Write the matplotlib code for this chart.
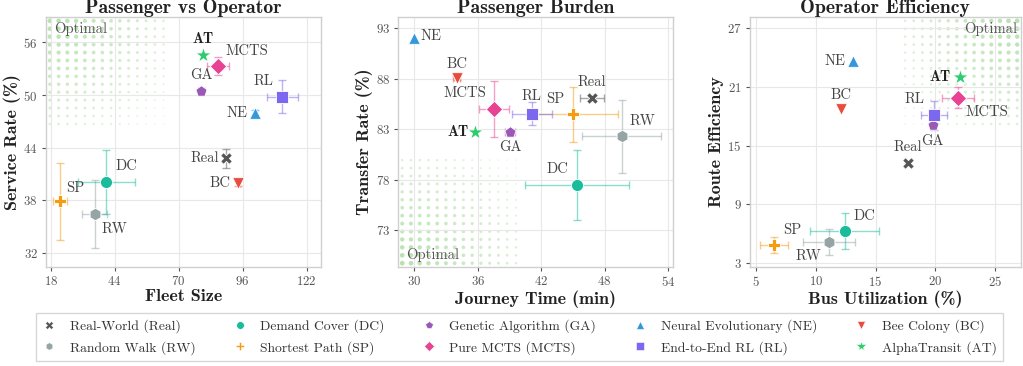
import numpy as np
import matplotlib
matplotlib.use("Agg")
import matplotlib.pyplot as plt
from matplotlib.lines import Line2D

plt.rcParams['font.family'] = ['cmr10', 'DejaVu Sans']
plt.rcParams['axes.formatter.use_mathtext'] = True
plt.rcParams['axes.unicode_minus'] = False

# ---------------- data ----------------
methods = ['Real', 'RW', 'DC', 'SP', 'GA', 'MCTS', 'NE', 'RL', 'BC', 'AT']
full_names = ['Real-World (Real)', 'Random Walk (RW)', 'Demand Cover (DC)', 'Shortest Path (SP)',
              'Genetic Algorithm (GA)', 'Pure MCTS (MCTS)', 'Neural Evolutionary (NE)',
              'End-to-End RL (RL)', 'Bee Colony (BC)', 'AlphaTransit (AT)']

# Panel 1: Fleet size vs service rate
fleet_size = [89.3, 35.9, 40.5, 21.9, 79.1, 86.1, 101.2, 112.2, 94.3, 80.0]
fleet_err = [0.0, 5.0, 11.6, 2.8, 0.8, 4.4, 0.6, 6.3, 0.6, 0.0]
service_rate = [42.8, 36.45, 40.1, 37.9, 50.5, 53.3, 47.9, 49.8, 40.0, 54.6]
service_err = [1.1, 3.85, 3.6, 4.4, 0.3, 1.0, 0.35, 1.86, 0.4, 0.0]

# Panel 2: Journey time vs transfer rate
journey_time = [46.8, 49.6, 45.4, 45.0, 39.1, 37.55, 30.0, 41.1, 34.0, 35.75]
journey_err = [1.13, 3.74, 4.9, 4.25, 0.47, 1.4, 0.0, 1.9, 0.3, 0.0]
transfer_rate = [86.1, 82.3, 77.5, 84.5, 82.7, 85.0, 92.1, 84.56, 88.1, 82.7]
transfer_err = [0.3, 3.6, 3.44, 2.7, 0.2, 2.75, 0.0, 1.14, 0.2, 0.0]

# Panel 3: Bus utilization vs route efficiency
bus_util = [17.7, 11.1, 12.4, 6.5, 19.8, 21.95, 13.1, 19.9, 12.1, 22.1]
bus_util_err = [0.2, 2.2, 2.9, 1.17, 0.2, 1.34, 0.0, 1.12, 0.0, 0.0]
route_eff = [13.2, 5.15, 6.28, 4.85, 17.1, 19.9, 23.65, 18.1, 18.7, 22.0]
route_eff_err = [0.2, 1.33, 1.85, 0.85, 0.2, 1.04, 0.0, 1.45, 0.0, 0.0]

# ---------------- styles ----------------
colors = {'Real': '#555555', 'RW': '#95a5a6', 'DC': '#1abc9c', 'SP': '#f39c12',
          'GA': '#9b59b6', 'MCTS': '#e84393', 'NE': '#3498db', 'RL': '#7b68ee',
          'BC': '#e74c3c', 'AT': '#2ecc71'}
markers = {'Real': 'X', 'RW': 'h', 'DC': 'o', 'SP': 'P', 'GA': 'p', 'MCTS': 'D',
           'NE': '^', 'RL': 's', 'BC': 'v', 'AT': '*'}
sizes = {'Real': 70, 'RW': 80, 'DC': 75, 'SP': 80, 'GA': 70, 'MCTS': 70,
         'NE': 70, 'RL': 65, 'BC': 70, 'AT': 140}

# label offsets in pixels (dx, dy)
offsets1 = {'AT': (0, 16), 'MCTS': (29, 15), 'GA': (0, 15), 'RL': (-19, 16), 'NE': (-18, 0),
            'Real': (-21, 0), 'BC': (-18, 0), 'DC': (20, 16), 'SP': (15, 13), 'RW': (20, -15)}
offsets2 = {'NE': (17, 1), 'BC': (0, 14), 'MCTS': (-29, 16), 'RL': (0, 17), 'SP': (-18, 15),
            'Real': (0, 16), 'RW': (21, 15), 'AT': (-17, 0), 'GA': (0, -15), 'DC': (-20, 16)}
offsets3 = {'NE': (-18, 0), 'BC': (0, 14), 'AT': (-20, 0), 'MCTS': (29, -14), 'RL': (-19, 16),
            'GA': (0, -16), 'Real': (0, 16), 'DC': (20, 15), 'SP': (18, 15), 'RW': (-21, -14)}

fig = plt.figure(figsize=(10.23, 3.66), dpi=100)

panels = [
    dict(rect=(0.045, 0.2713, 0.2688, 0.6814), x=fleet_size, xe=fleet_err, y=service_rate, ye=service_err,
         xlim=(16.1, 127.9), ylim=(30.45, 58.85), xt=[18, 44, 70, 96, 122], yt=[32, 38, 44, 50, 56],
         title='Passenger vs Operator', xl='Fleet Size', yl='Service Rate (%)', off=offsets1, corner='tl'),
    dict(rect=(0.3894, 0.2713, 0.2688, 0.6814), x=journey_time, xe=journey_err, y=transfer_rate, ye=transfer_err,
         xlim=(28.5, 54.5), ylim=(69.4, 94.1), xt=[30, 36, 42, 48, 54], yt=[73, 78, 83, 88, 93],
         title='Passenger Burden', xl='Journey Time (min)', yl='Transfer Rate (%)', off=offsets2, corner='bl'),
    dict(rect=(0.7331, 0.2713, 0.2649, 0.6814), x=bus_util, xe=bus_util_err, y=route_eff, ye=route_eff_err,
         xlim=(4.47, 27.2), ylim=(2.65, 28.1), xt=[5, 10, 15, 20, 25], yt=[3, 9, 15, 21, 27],
         title='Operator Efficiency', xl='Bus Utilization (%)', yl='Route Efficiency', off=offsets3, corner='tr'),
]

def optimal_dots(ax, corner):
    n = 14
    step = 0.0318
    us = 0.014 + step * np.arange(n)
    frac = us[-1]
    xs, ys, ss, al = [], [], [], []
    for u in us:
        for v in us:
            r = np.hypot(u / frac, v / frac)
            t = max(0.0, 1 - r / 1.35)
            if corner == 'tl':
                px, py = u, 1 - v
            elif corner == 'bl':
                px, py = u, v
            else:
                px, py = 1 - u, 1 - v
            xs.append(px); ys.append(py)
            ss.append(1.2 + 11 * t ** 1.2)
            al.append(0.25 + 0.6 * t)
    rgba = np.zeros((len(xs), 4))
    rgba[:, :3] = matplotlib.colors.to_rgb('#a9dc9e')
    rgba[:, 3] = al
    ax.scatter(xs, ys, s=ss, c=rgba, transform=ax.transAxes, linewidths=0, zorder=0.5, clip_on=True)
    if corner == 'tl':
        ax.text(0.03, 0.952, 'Optimal', transform=ax.transAxes, ha='left', va='center',
                fontsize=10.5, color='#555555', zorder=1)
    elif corner == 'bl':
        ax.text(0.03, 0.047, 'Optimal', transform=ax.transAxes, ha='left', va='center',
                fontsize=10.5, color='#555555', zorder=1)
    else:
        ax.text(0.985, 0.952, 'Optimal', transform=ax.transAxes, ha='right', va='center',
                fontsize=10.5, color='#555555', zorder=1)

for p in panels:
    ax = fig.add_axes(p['rect'])
    ax.set_xlim(*p['xlim'])
    ax.set_ylim(*p['ylim'])
    ax.set_xticks(p['xt'])
    ax.set_yticks(p['yt'])
    ax.grid(True, color='#e8e8e8', lw=0.8, zorder=0)
    ax.set_axisbelow(True)
    for s in ax.spines.values():
        s.set_color('#cfcfcf')
        s.set_linewidth(1.0)
    ax.tick_params(colors='#555555', labelsize=9.2, length=3, width=0.8, pad=3)
    ax.set_title(p['title'], fontfamily='cmb10', fontsize=14.3, pad=2, color='#222222')
    ax.set_xlabel(p['xl'], fontfamily='cmb10', fontsize=13, labelpad=1, color='#222222')
    ax.set_ylabel(p['yl'], fontfamily='cmb10', fontsize=13, labelpad=2, color='#222222')
    optimal_dots(ax, p['corner'])
    for k, m in enumerate(methods):
        c = colors[m]
        if p['xe'][k] > 0 or p['ye'][k] > 0:
            ax.errorbar(p['x'][k], p['y'][k], xerr=p['xe'][k] if p['xe'][k] > 0 else None,
                        yerr=p['ye'][k] if p['ye'][k] > 0 else None, fmt='none', ecolor=c,
                        alpha=0.5, elinewidth=1.0, capsize=3, capthick=1.0, zorder=2)
        ax.scatter([p['x'][k]], [p['y'][k]], marker=markers[m], s=sizes[m], color=c,
                   edgecolors='white', linewidths=0.6, zorder=3)
        dx, dy = p['off'][m]
        if m == 'AT':
            ax.annotate(m, (p['x'][k], p['y'][k]), xytext=(dx * 0.72, dy * 0.72),
                        textcoords='offset points', ha='center', va='center',
                        fontfamily='cmb10', fontsize=10.5, color='#222222', zorder=4)
        else:
            ax.annotate(m, (p['x'][k], p['y'][k]), xytext=(dx * 0.72, dy * 0.72),
                        textcoords='offset points', ha='center', va='center',
                        fontsize=10.5, color='#444444', zorder=4)

handles = [Line2D([], [], linestyle='none', marker=markers[m], color=colors[m],
                  markersize=5.5 if m != 'AT' else 7.5, markeredgecolor='white', markeredgewidth=0.4)
           for m in methods]
leg = fig.legend(handles, full_names, ncol=5, loc='lower center', bbox_to_anchor=(0.508, -0.004),
                 fontsize=9.8, frameon=True, fancybox=False, edgecolor='#cccccc',
                 columnspacing=2.75, handletextpad=1.0, labelspacing=0.55, borderpad=0.45,
                 handlelength=1.0)
leg.get_frame().set_linewidth(1.0)
for t in leg.get_texts():
    t.set_color('#333333')

fig.savefig('out.png', dpi=100)
